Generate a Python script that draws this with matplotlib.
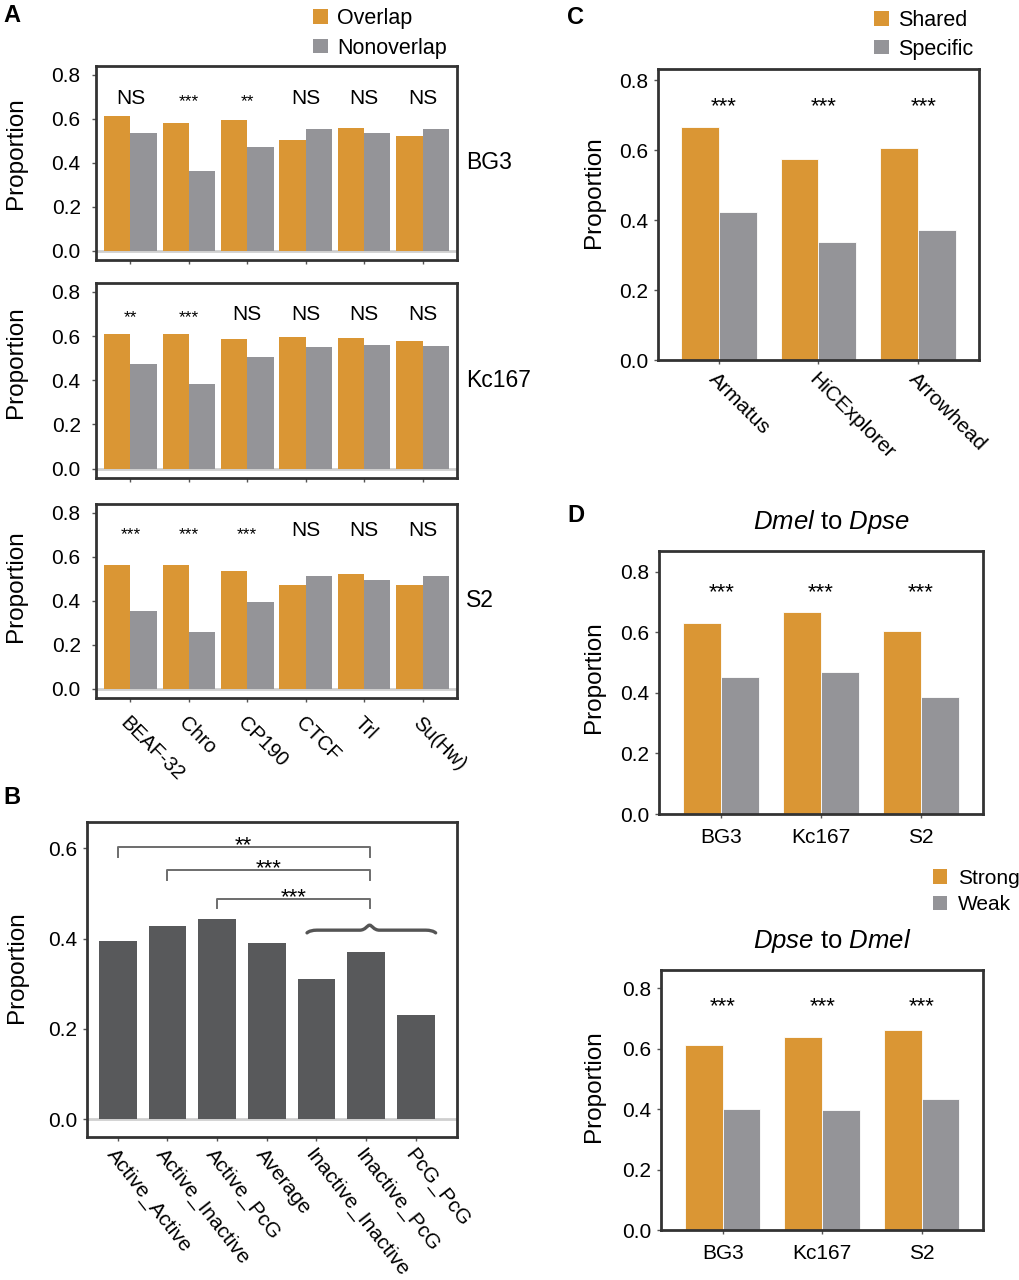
import matplotlib
matplotlib.use("Agg")
import matplotlib.pyplot as plt
import numpy as np
from matplotlib.patches import Patch, PathPatch
from matplotlib.path import Path
import matplotlib.transforms as mtransforms

plt.rcParams['font.family'] = ['Liberation Sans', 'DejaVu Sans']
plt.rcParams['mathtext.fontset'] = 'custom'
plt.rcParams['mathtext.rm'] = 'Liberation Sans'
plt.rcParams['mathtext.it'] = 'Liberation Sans:italic'

# ---------------- data ----------------
factors = ['BEAF-32', 'Chro', 'CP190', 'CTCF', 'Trl', 'Su(Hw)']
cell_lines = ['BG3', 'Kc167', 'S2']
overlap_bg3 = [0.611, 0.580, 0.593, 0.505, 0.557, 0.520]
nonoverlap_bg3 = [0.533, 0.360, 0.470, 0.555, 0.533, 0.551]
overlap_kc167 = [0.610, 0.610, 0.586, 0.597, 0.591, 0.579]
nonoverlap_kc167 = [0.473, 0.382, 0.503, 0.548, 0.557, 0.553]
overlap_s2 = [0.561, 0.563, 0.537, 0.473, 0.523, 0.473]
nonoverlap_s2 = [0.354, 0.256, 0.392, 0.511, 0.493, 0.513]
sig_bg3 = ['NS', '***', '**', 'NS', 'NS', 'NS']
sig_kc167 = ['**', '***', 'NS', 'NS', 'NS', 'NS']
sig_s2 = ['***', '***', '***', 'NS', 'NS', 'NS']

domain_pairs = ['Active_Active', 'Active_Inactive', 'Active_PcG', 'Average',
                'Inactive_Inactive', 'Inactive_PcG', 'PcG_PcG']
pair_props = [0.395, 0.429, 0.443, 0.390, 0.311, 0.371, 0.232]
comparisons = [('Active_Active', 'Inactive_PcG', '**'),
               ('Active_Inactive', 'Inactive_PcG', '***'),
               ('Active_PcG', 'Inactive_PcG', '***')]

callers = ['Armatus', 'HiCExplorer', 'Arrowhead']
shared = [0.665, 0.575, 0.606]
specific = [0.423, 0.337, 0.371]
sig_c = ['***', '***', '***']

strong_dmel_dpse = [0.631, 0.669, 0.604]
weak_dmel_dpse = [0.454, 0.470, 0.385]
strong_dpse_dmel = [0.612, 0.639, 0.661]
weak_dpse_dmel = [0.401, 0.396, 0.433]
sig_d = ['***', '***', '***']

ORANGE = '#DA9634'
GRAY = '#949498'
DARK = '#58595B'
SPINE = '#333333'

W, H = 1020, 1280
fig = plt.figure(figsize=(W / 100, H / 100), dpi=100)

YLAB_FS = 17.5
YLAB_RIGHT_LEFTCOL = 27.5   # pixel x of the label's right (descent) edge
YLAB_RIGHT_RIGHTCOL = 605.0


def px_axes(x0, y0, x1, y1):
    return fig.add_axes([x0 / W, 1 - y1 / H, (x1 - x0) / W, (y1 - y0) / H])


def style(ax, pad=4):
    for s in ax.spines.values():
        s.set_linewidth(2)
        s.set_color(SPINE)
    ax.tick_params(axis='both', length=3, width=1, color='#555555',
                   labelsize=15, pad=pad)


def sig_text(ax, x, yc, label, fs):
    if label == 'NS':
        off = 0.358 * fs
    else:
        off = 0.57 * fs
    ax.annotate(label, (x, yc), xytext=(0, -off), textcoords='offset points',
                ha='center', va='baseline', fontsize=fs)


def ylabel(ax, box, yfrac, xright):
    ax.set_ylabel('Proportion', fontsize=YLAB_FS)
    ax.yaxis.set_label_coords((xright - box[0]) / (box[2] - box[0]), yfrac)


# ---------------- Panel A ----------------
a_boxes = [(96, 66, 457, 260), (96, 283, 457, 478), (96, 504, 457, 698)]
a_over = [overlap_bg3, overlap_kc167, overlap_s2]
a_non = [nonoverlap_bg3, nonoverlap_kc167, nonoverlap_s2]
a_sig = [sig_bg3, sig_kc167, sig_s2]
a_sig_y = [0.703, 0.708, 0.727]
a_label_y = [0.549, 0.594, 0.576]
x = np.arange(len(factors))
bw = 0.45
for i, box in enumerate(a_boxes):
    ax = px_axes(*box)
    ax.axhline(0, color='#cfcfcf', lw=2, zorder=0.5)
    ax.bar(x - bw / 2, a_over[i], bw, color=ORANGE, zorder=2)
    ax.bar(x + bw / 2, a_non[i], bw, color=GRAY, zorder=2)
    ax.set_xlim(-0.59, 5.59)
    ax.set_ylim(-0.043, 0.84)
    ax.set_yticks([0, 0.2, 0.4, 0.6, 0.8])
    ax.set_yticklabels(['0.0', '0.2', '0.4', '0.6', '0.8'])
    ax.set_xticks(x)
    style(ax, pad=8)
    if i < 2:
        ax.set_xticklabels([])
    else:
        ax.set_xticklabels(factors, rotation=-45, ha='left', va='top',
                           rotation_mode='anchor', fontsize=14.5)
    for xi, s in zip(x, a_sig[i]):
        sig_text(ax, xi, a_sig_y[i], s, 15 if s == 'NS' else 12.5)
    ylabel(ax, box, a_label_y[i], YLAB_RIGHT_LEFTCOL)
    trans = mtransforms.blended_transform_factory(ax.transAxes, ax.transData)
    ax.text(1.025, 0.40, cell_lines[i], transform=trans, ha='left',
            va='center', fontsize=16.5)

fig.legend([Patch(facecolor=ORANGE, edgecolor='none'),
            Patch(facecolor=GRAY, edgecolor='none')],
           ['Overlap', 'Nonoverlap'], loc='upper left',
           bbox_to_anchor=(313 / W, 1 - 8 / H), frameon=False, fontsize=15.5,
           handlelength=0.68, handleheight=0.68, handletextpad=0.45,
           labelspacing=0.4, borderpad=0, borderaxespad=0)

# ---------------- Panel B ----------------
box_b = (87, 822.3, 457, 1137.3)
axb = px_axes(*box_b)
xb = np.arange(len(domain_pairs))
axb.axhline(0, color='#cfcfcf', lw=2, zorder=0.5)
axb.bar(xb, pair_props, 0.76, color=DARK, zorder=2)
axb.set_xlim(-0.62, 6.83)
axb.set_ylim(-0.04, 0.658)
axb.set_yticks([0, 0.2, 0.4, 0.6])
axb.set_yticklabels(['0.0', '0.2', '0.4', '0.6'])
axb.set_xticks(xb)
axb.set_xticklabels(domain_pairs, rotation=-52, ha='left', va='top',
                    rotation_mode='anchor', fontsize=14.2)
style(axb, pad=4)
axb.tick_params(axis='x', pad=3)
ylabel(axb, box_b, 0.54, YLAB_RIGHT_LEFTCOL)
bracket_y = [0.603, 0.552, 0.489]
for (a, b, lab), yb in zip(comparisons, bracket_y):
    xa = domain_pairs.index(a)
    xe = domain_pairs.index(b) + 0.07
    axb.plot([xa, xa, xe, xe], [yb - 0.022, yb, yb, yb - 0.022],
             color='#6d6d6d', lw=1.4, zorder=3)
    sig_text(axb, (xa + xe) / 2, yb + 0.018, lab, 16)
# curly brace over Inactive_Inactive .. PcG_PcG
x0, xc, x1 = 3.81, 5.07, 6.40
yl, ym, yp = 0.413, 0.419, 0.430
verts = [(x0, yl), (x0 + 0.06, ym), (x0 + 0.2, ym),
         (xc - 0.2, ym),
         (xc - 0.08, ym), (xc - 0.05, yp), (xc, yp),
         (xc + 0.05, yp), (xc + 0.08, ym), (xc + 0.2, ym),
         (x1 - 0.2, ym),
         (x1 - 0.06, ym), (x1, yl)]
codes = [Path.MOVETO, Path.CURVE3, Path.CURVE3,
         Path.LINETO,
         Path.CURVE4, Path.CURVE4, Path.CURVE4,
         Path.CURVE4, Path.CURVE4, Path.CURVE4,
         Path.LINETO,
         Path.CURVE3, Path.CURVE3]
axb.add_patch(PathPatch(Path(verts, codes), facecolor='none',
                        edgecolor='#555555', lw=2.4, zorder=3,
                        capstyle='round'))

# ---------------- Panel C ----------------
box_c = (657.7, 69.3, 979.3, 360)
axc = px_axes(*box_c)
xc3 = np.arange(len(callers))
bw2 = 0.38
axc.bar(xc3 - bw2 / 2, shared, bw2, color=ORANGE, edgecolor='white', lw=0.6)
axc.bar(xc3 + bw2 / 2, specific, bw2, color=GRAY, edgecolor='white', lw=0.6)
axc.set_xlim(-0.61, 2.61)
axc.set_ylim(0, 0.831)
axc.set_yticks([0, 0.2, 0.4, 0.6, 0.8])
axc.set_yticklabels(['0.0', '0.2', '0.4', '0.6', '0.8'])
axc.set_xticks(xc3)
axc.set_xticklabels(callers, rotation=-45, ha='left', va='top',
                    rotation_mode='anchor', fontsize=15)
style(axc, pad=4)
for xi, s in zip(xc3, sig_c):
    sig_text(axc, xi + 0.05, 0.745, s, 16)
ylabel(axc, box_c, 0.579, YLAB_RIGHT_RIGHTCOL)
fig.legend([Patch(facecolor=ORANGE, edgecolor='none'),
            Patch(facecolor=GRAY, edgecolor='none')],
           ['Shared', 'Specific'], loc='upper left',
           bbox_to_anchor=(874 / W, 1 - 10 / H), frameon=False, fontsize=15.5,
           handlelength=0.68, handleheight=0.68, handletextpad=0.45,
           labelspacing=0.35, borderpad=0, borderaxespad=0)

# ---------------- Panel D ----------------
d_boxes = [(659.3, 551, 982.7, 814), (661, 970, 983.3, 1230)]
d_strong = [strong_dmel_dpse, strong_dpse_dmel]
d_weak = [weak_dmel_dpse, weak_dpse_dmel]
d_ylim = [0.869, 0.861]
d_sig_y = [0.756, 0.762]
d_titles = [r'$\mathit{Dmel}$ to $\mathit{Dpse}$', r'$\mathit{Dpse}$ to $\mathit{Dmel}$']
d_label_y = [0.522, 0.555]
xd = np.arange(len(cell_lines))
bw3 = 0.38
for i, box in enumerate(d_boxes):
    ax = px_axes(*box)
    ax.bar(xd - bw3 / 2, d_strong[i], bw3, color=ORANGE, edgecolor='white', lw=0.6)
    ax.bar(xd + bw3 / 2, d_weak[i], bw3, color=GRAY, edgecolor='white', lw=0.6)
    ax.set_xlim(-0.62, 2.62)
    ax.set_ylim(0, d_ylim[i])
    ax.set_yticks([0, 0.2, 0.4, 0.6, 0.8])
    ax.set_yticklabels(['0.0', '0.2', '0.4', '0.6', '0.8'])
    ax.set_xticks(xd)
    ax.set_xticklabels(cell_lines, fontsize=15)
    style(ax, pad=4)
    ax.tick_params(axis='x', pad=7)
    for xi, s in zip(xd, sig_d):
        sig_text(ax, xi, d_sig_y[i], s, 16)
    ylabel(ax, box, d_label_y[i], YLAB_RIGHT_RIGHTCOL)
    ax.text(0.532, 1 + 29 / (box[3] - box[1]), d_titles[i], transform=ax.transAxes,
            ha='center', va='center', fontsize=18.5)
fig.legend([Patch(facecolor=ORANGE, edgecolor='none'),
            Patch(facecolor=GRAY, edgecolor='none')],
           ['Strong', 'Weak'], loc='upper left',
           bbox_to_anchor=(932.7 / W, 1 - 869 / H), frameon=False, fontsize=15,
           handlelength=0.7, handleheight=0.7, handletextpad=0.5,
           labelspacing=0.35, borderpad=0, borderaxespad=0)

# ---------------- panel letters ----------------
for lab, (px, py) in zip('ABCD', [(3, 16), (3, 797), (567, 17), (567, 516)]):
    fig.text(px / W, 1 - py / H, lab, fontsize=17, fontweight='bold',
             ha='left', va='center')

fig.savefig('out.png', dpi=100)
